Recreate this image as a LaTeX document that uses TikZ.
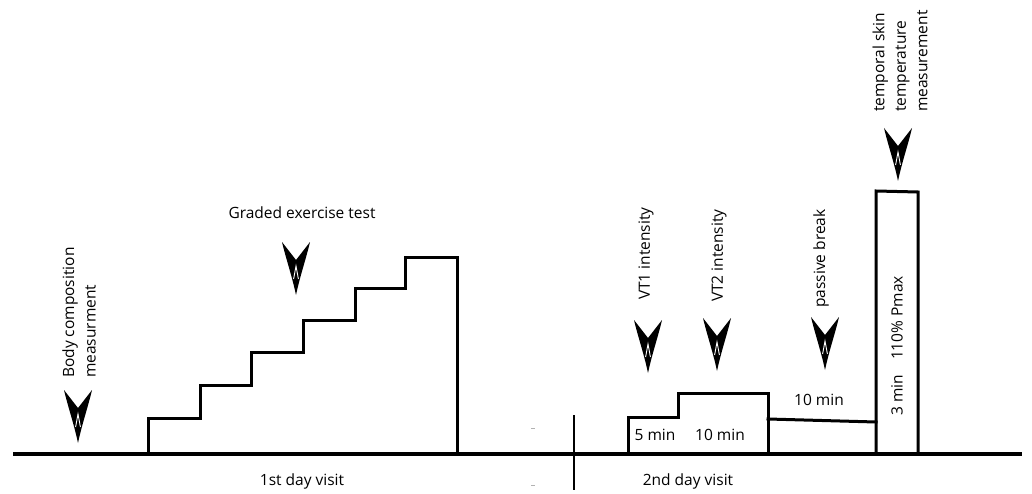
\documentclass[tikz,border=0pt]{standalone}
\usepackage{fontspec}
\setmainfont{Open Sans}
\begin{document}
\begin{tikzpicture}[x=1pt,y=-1pt,
  lbl/.style={inner sep=0pt,font=\fontsize{15.5}{21.5}\selectfont},
  vlbl/.style={lbl,rotate=90,anchor=west,align=left},
  bar/.style={line width=3pt,line join=miter,line cap=rect},
  downmark/.pic={
    \fill[black] (-14,0) -- (0,18) -- (14,0) .. controls (10,17) and (4,34) .. (0,53)
                 .. controls (-4,34) and (-10,17) .. (-14,0) -- cycle;
    \draw[white,line width=0.9pt] (-2.4,37) -- (0,24) -- (2.4,37);
  }]
\path[use as bounding box] (0,0) rectangle (1032,494);

% baseline and divider
\draw[line width=3.5pt] (13,454) -- (1022,454);
\draw[line width=2.5pt] (574,415) -- (574,490);
\draw[gray!60,line width=1pt] (531,428) -- (535,428);
\draw[gray!60,line width=1pt] (531,485) -- (535,485);

% day 1 staircase
\draw[bar] (148,454) |- (200,418) |- (251,385) |- (303,352) |- (355,320)
  |- (405,288) |- (457,257) -- (457,454);

% day 2 profile
\draw[bar] (628,454) |- (678,417) |- (768,393) -- (768,454);
\draw[bar] (768,419) -- (876,422);
\draw[bar] (876,454) -- (876,191) -- (918,192) -- (918,454);

% markers
\pic at (78,390) {downmark};
\pic at (296,242) {downmark};
\pic at (648,320) {downmark};
\pic at (717,318) {downmark};
\pic at (825,317) {downmark};
\pic at (898,128) {downmark};

% labels
\node[vlbl] (body) at (79,378) {Body composition\\measurment};
\node[lbl] (get) at (302,213) {Graded exercise test};
\node[vlbl] (vt1) at (646,300) {VT1 intensity};
\node[vlbl] (vt2) at (719,302) {VT2 intensity};
\node[vlbl] (pb) at (821,308) {passive break};
\node[vlbl] (tst) at (900,112) {temporal skin\\temperature\\measurement};
\node[lbl] (m5) at (655,435) {5 min};
\node[lbl] (m10a) at (720,435) {10 min};
\node[lbl] (m10b) at (819,400) {10 min};
\node[lbl,rotate=90] (m3) at (897,395) {3 min};
\node[lbl,rotate=90] (pmax) at (897,318) {110\% Pmax};
\node[lbl] (d1) at (302,481) {1st day visit};
\node[lbl] (d2) at (688,481) {2nd day visit};
\end{tikzpicture}
\end{document}
